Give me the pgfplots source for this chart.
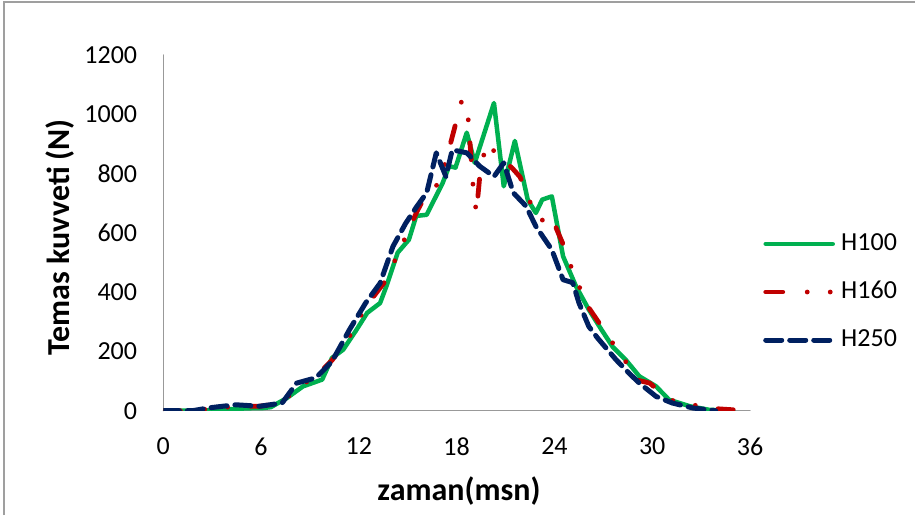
\documentclass[border=0pt]{standalone}
\usepackage{pgfplots}
\pgfplotsset{compat=1.18}
\usepackage{fontspec}
\setmainfont{Carlito}
\definecolor{cgreen}{HTML}{00B050}
\definecolor{cred}{HTML}{C00000}
\definecolor{cblue}{HTML}{002060}
\begin{document}
\begin{tikzpicture}[x=1pt,y=1pt]
\useasboundingbox (0,0) rectangle (915,515);
\draw[gray!75, line width=1.3pt] (4,0) -- (4,513) -- (915,513);
\begin{axis}[
  at={(163.3pt,104.3pt)}, anchor=south west,
  scale only axis, width=586.7pt, height=355.7pt,
  xmin=0, xmax=36, ymin=0, ymax=1200,
  axis x line*=bottom, axis y line*=left,
  axis line style={gray!80, line width=1.2pt, -},
  xtick={0,6,...,36}, ytick={0,200,...,1200},
  major tick length=0pt,
  /pgf/number format/assume math mode=true,
  /pgf/number format/1000 sep={},
  tick label style={font=\fontsize{26}{26}\selectfont, inner sep=0pt},
  xticklabel style={anchor=north, yshift=-27pt},
  yticklabel style={anchor=east, xshift=-26pt},
  xlabel={zaman(msn)}, ylabel={Temas kuvveti (N)},
  label style={font=\fontsize{32}{32}\selectfont\bfseries},
  xlabel style={at={(axis description cs:0.504,-0.2258)}, anchor=center},
  ylabel style={at={(axis description cs:-0.176,0.488)}, anchor=center},
  legend style={draw=none, fill=none, at={(axis description cs:1.0222,0.3337)}, anchor=west,
    inner sep=0pt, font=\fontsize{26}{26}\selectfont,
    nodes={inner sep=0pt, text height=17pt, text depth=5pt},
    row sep=26pt, column sep=6pt},
  legend cell align=left,
  legend image code/.code={\draw[line cap=round, line join=round, #1] (2.5pt,0pt) -- (69.5pt,0pt);},
  line join=round, line cap=round,
]
\addplot[cgreen, line width=4.5pt] coordinates {
(0,0) (1.19,0) (2.17,0) (3.16,2) (4.14,5) (5.13,8) (6.11,9) (6.60,12) (7.59,43) (8.57,82)
(9.75,105) (10.35,178) (11.04,206) (11.82,270) (12.51,330) (13.30,363) (13.69,420) (14.38,533)
(15.07,577) (15.52,657) (16.16,661) (17.14,768) (17.54,825) (17.93,820) (18.62,938) (19.11,836)
(20.29,1038) (20.89,757) (21.57,910) (22.36,712) (22.86,667) (23.25,712) (23.84,723) (24.53,521)
(25.32,420) (26.11,341) (26.89,273) (27.58,215) (28.37,172) (29.21,116) (30.24,82) (31.03,37)
(32.31,15) (33.49,3) (34.97,0)};
\addlegendentry{H100}
\addplot[cred, line width=4.8pt, dash pattern=on 17pt off 24.5pt on 0pt off 23pt on 0pt off 23pt] coordinates {
(0,0) (1.78,0) (3.35,10) (4.83,15) (5.91,15) (7.29,26) (8.38,88) (9.16,105) (10.35,170) (11.43,251)
(12.41,350) (13.69,442) (14.48,540) (15.07,610) (15.52,667) (16.16,735) (16.95,768) (17.24,825)
(17.63,903) (18.32,1048) (18.72,980) (18.82,903) (19.01,757) (19.21,667) (19.41,786) (19.80,903)
(20.59,860) (21.38,820) (21.87,790) (22.26,746) (22.76,661) (23.54,633) (23.84,650) (24.63,549)
(25.12,470) (25.51,420) (26.11,347) (26.89,284) (27.58,228) (28.37,166) (28.96,105) (29.85,93)
(31.03,37) (32.51,20) (33.30,9) (34.97,3)};
\addlegendentry{H160}
\addplot[cblue, line width=5pt, dash pattern=on 16pt off 8pt] coordinates {
(0,0) (1.78,0) (2.86,10) (4.44,20) (5.91,15) (7.29,26) (8.18,93) (9.36,111) (10.35,166) (11.43,274)
(12.41,363) (13.30,430) (14.09,554) (14.88,633) (15.57,690) (16.16,735) (16.75,870) (17.34,790)
(17.73,880) (18.62,870) (19.41,825) (20.29,790) (20.89,836) (21.48,735) (22.26,690) (22.86,622)
(23.84,543) (24.53,442) (25.12,432) (25.51,363) (26.11,284) (26.65,245) (27.78,172) (28.57,127)
(29.21,93) (30.24,48) (31.23,26) (32.51,9) (33.89,0)};
\addlegendentry{H250}
\end{axis}
\end{tikzpicture}
\end{document}
